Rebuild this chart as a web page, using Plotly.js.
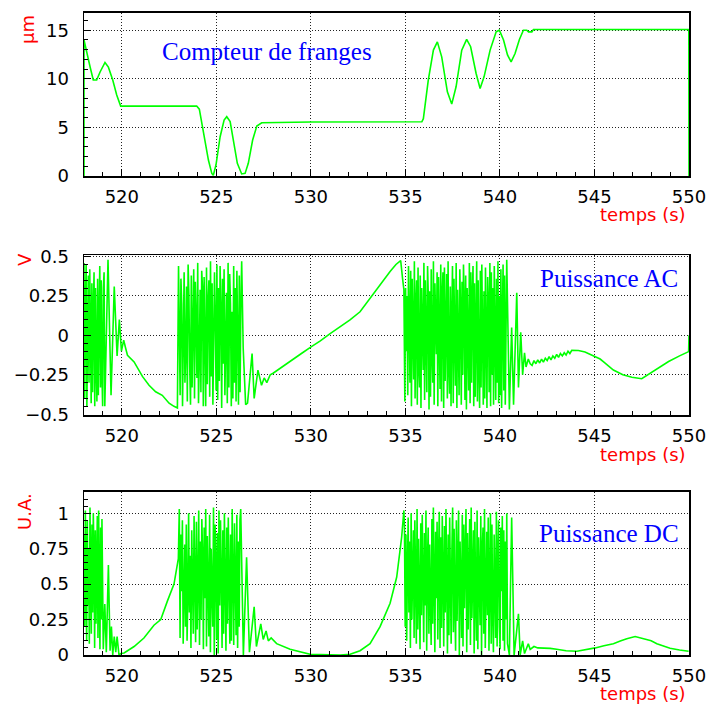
<!DOCTYPE html>
<html><head><meta charset="utf-8">
<script src="https://cdn.plot.ly/plotly-3.0.1.min.js"></script>
<style>html,body{margin:0;padding:0;background:#fff}#chart{width:709px;height:704px}</style>
</head><body><div id="chart"></div>
<script>
// ---------------- DATA ----------------
const xTickVals = [520, 525, 530, 535, 540, 545, 550];
const xTickText = ["520", "525", "530", "535", "540", "545", "550"];
const frTickVals = [0, 5, 10, 15];
const frTickText = ["0", "5", "10", "15"];
const acTickVals = [-0.5, -0.25, 0, 0.25, 0.5];
const acTickText = ["\u22120.5", "\u22120.25", "0", "0.25", "0.5"];
const dcTickVals = [0, 0.25, 0.5, 0.75, 1];
const dcTickText = ["0", "0.25", "0.5", "0.75", "1"];

// Compteur de franges (µm)
const frTime = [518.0, 518.0, 518.32, 518.49, 518.67, 518.85, 519.11, 519.29, 519.52, 519.73, 519.94, 520.5, 522.0, 523.96, 524.1, 524.31, 524.58, 524.76, 524.84, 524.98, 525.2, 525.41, 525.55, 525.73, 525.9, 526.11, 526.34, 526.52, 526.69, 526.92, 527.14, 527.4, 530.0, 533.0, 535.87, 535.95, 536.21, 536.48, 536.69, 536.92, 537.22, 537.45, 537.68, 537.98, 538.24, 538.45, 538.74, 538.95, 539.16, 539.48, 539.8, 539.97, 540.19, 540.4, 540.59, 540.8, 541.03, 541.24, 541.42, 541.51, 541.69, 541.77, 545.0, 549.99, 550.0];
const frValue = [0, 14.0, 11.24, 9.87, 9.87, 10.7, 11.68, 11.2, 9.87, 8.33, 7.19, 7.2, 7.2, 7.2, 6.87, 4.38, 1.64, 0.27, 0.07, 1.13, 4.04, 5.75, 6.1, 5.6, 3.7, 1.3, 0.21, 0.27, 1.3, 3.7, 5.14, 5.48, 5.55, 5.57, 5.58, 5.9, 9.87, 12.95, 13.8, 12.26, 8.66, 7.4, 9.18, 12.95, 14.05, 13.3, 10.55, 9.01, 10.2, 12.95, 14.83, 15.0, 14.0, 12.46, 11.75, 12.6, 14.05, 15.0, 15.0, 14.83, 14.83, 15.07, 15.07, 15.07, 0];

// Puissance AC (V)
const acBurst1Span = [518.0, 519.1];
const acBurst1 = [0.46, -0.40, 0.20, 0.45, -0.45, -0.10, 0.38, -0.30, 0.42, 0.05, -0.43, 0.33, -0.36, 0.15, 0.40, -0.45, 0.30, -0.20, -0.42, 0.36, -0.38, 0.10, 0.44, -0.33, 0.35, -0.25, -0.45, 0.30, 0.40, -0.45];
const acSeg1Time = [519.27, 519.43, 519.6, 519.75, 519.87, 519.98, 520.1, 520.2, 520.3, 520.65, 521.09, 521.44, 521.79, 522.14, 522.5, 522.76, 522.94];
const acSeg1Value = [0.48, -0.38, 0.31, -0.13, 0.10, -0.10, -0.03, -0.08, -0.126, -0.168, -0.26, -0.316, -0.358, -0.38, -0.43, -0.45, -0.46];
const acBurst2Span = [523.0, 526.34];
const acBurst2 = [0.44, -0.30, -0.38, 0.36, 0.20, -0.45, 0.12, 0.40, -0.30, -0.10, 0.31, -0.42, 0.45, 0.25, -0.20, -0.44, 0.38, -0.33, 0.05, 0.42, -0.40, 0.34, 0.10, -0.27, 0.46, -0.43, -0.15, 0.29, -0.36, 0.41, 0.30, -0.45, 0.37, -0.25, -0.45, 0.43, -0.31, 0.22, 0.35, -0.39, 0.47, -0.26, 0.33, -0.44, 0.00, 0.40, 0.08, -0.35, 0.45, -0.41, 0.30, -0.29, 0.44, 0.15, -0.46, 0.36, -0.18, 0.42, -0.38, -0.10, 0.27, -0.43, 0.46, -0.33, 0.39, 0.20, -0.45, 0.15, -0.40, 0.44, -0.30, 0.30, -0.42, 0.41, -0.25, -0.44, 0.38, -0.36, 0.20, 0.47];
const acSeg2Time = [526.42, 526.55, 526.65, 526.89, 527.0, 527.2, 527.39, 527.53, 527.67, 527.85, 528.0, 528.5, 529.0, 529.5, 530.05, 530.5, 531.0, 531.55, 532.07, 532.6, 533.13, 533.6, 534.19, 534.5, 534.75, 534.85, 534.92];
const acSeg2Value = [-0.08, -0.44, -0.43, -0.115, -0.40, -0.22, -0.316, -0.27, -0.30, -0.25, -0.24, -0.20, -0.155, -0.115, -0.07, -0.035, 0.01, 0.056, 0.098, 0.15, 0.236, 0.31, 0.405, 0.45, 0.475, 0.36, 0.29];
const acBurst3Span = [534.97, 540.36];
const acBurst3 = [-0.42, 0.30, -0.10, 0.25, -0.38, 0.44, 0.10, -0.30, 0.41, -0.45, 0.36, -0.05, -0.28, 0.47, -0.40, 0.20, 0.35, -0.44, 0.43, -0.20, -0.33, 0.38, -0.46, 0.30, 0.05, -0.22, 0.46, -0.41, 0.35, -0.15, -0.36, 0.44, 0.25, -0.47, 0.28, -0.39, 0.42, -0.10, -0.30, 0.47, -0.44, 0.33, 0.15, -0.12, 0.40, -0.45, 0.37, -0.25, -0.34, 0.45, -0.42, 0.26, 0.40, -0.46, 0.43, -0.29, 0.10, 0.39, -0.40, 0.47, -0.20, -0.37, 0.31, -0.45, 0.10, 0.44, -0.43, 0.36, 0.00, -0.32, 0.46, -0.46, 0.29, -0.20, -0.38, 0.42, 0.15, -0.44, 0.34, -0.25, 0.45, 0.20, -0.41, 0.38, -0.47, 0.30, -0.05, -0.35, 0.46, -0.43, 0.40, -0.30, 0.25, 0.44, -0.45, 0.33, -0.39, 0.05, 0.47, -0.42, 0.35, -0.20, -0.46, 0.41, -0.33, 0.45, 0.10, -0.44, 0.28, -0.40, 0.43, -0.15, -0.46, 0.37, 0.20, -0.36, 0.46, -0.45, 0.40, -0.25, 0.30, -0.44, 0.44, 0.00, -0.41, 0.36, -0.30, 0.47, -0.43, 0.25, -0.38, 0.42, -0.46, 0.10, 0.45, -0.35, 0.38, -0.44, 0.40, 0.48];
const acSeg3Time = [540.5, 540.62, 540.72, 540.89, 540.98, 541.1, 541.2, 541.3, 541.38, 541.5, 541.6, 541.7, 541.8, 541.9, 542.0, 542.1, 542.2, 542.3, 542.4, 542.5, 542.6, 542.7, 542.8, 542.9, 543.0, 543.1, 543.2, 543.3, 543.4, 543.5, 543.6, 543.7, 543.8, 544.15, 544.5, 544.8, 545.05, 545.3, 545.5, 546.0, 546.5, 546.98, 547.5, 547.95, 548.5, 548.92, 549.5, 549.98, 550.0];
const acSeg3Value = [-0.47, 0.05, -0.44, 0.27, -0.33, 0.02, -0.25, -0.11, -0.20, -0.15, -0.18, -0.19, -0.16, -0.18, -0.155, -0.175, -0.15, -0.17, -0.145, -0.16, -0.135, -0.155, -0.13, -0.145, -0.12, -0.14, -0.115, -0.13, -0.11, -0.125, -0.10, -0.115, -0.095, -0.096, -0.105, -0.12, -0.135, -0.15, -0.17, -0.22, -0.25, -0.265, -0.275, -0.24, -0.20, -0.166, -0.13, -0.103, 0.0];

// Puissance DC (U.A.)
const dcBurst1Span = [518.0, 519.02];
const dcBurst1 = [0.85, 0.20, 1.02, 0.60, 0.10, 0.95, 0.35, 0.75, 0.08, 1.04, 0.40, 0.15, 0.92, 0.30, 1.00, 0.70, 0.05, 0.88, 0.22, 0.50, 0.98, 0.12, 1.02, 0.45, 0.04, 0.90, 0.25, 0.96, 0.10, 0.04];
const dcSeg1Time = [519.1, 519.18, 519.29, 519.38, 519.45, 519.52, 519.6, 519.68, 519.75, 519.85, 519.95, 520.12, 520.65, 521.17, 521.7, 522.06, 522.41, 522.76, 522.99];
const dcSeg1Value = [0.36, 0.02, 0.635, 0.03, 0.20, 0.0, 0.13, 0.02, 0.13, 0.0, 0.01, 0.014, 0.06, 0.12, 0.21, 0.25, 0.38, 0.50, 0.68];
const dcBurst2Span = [523.04, 526.29];
const dcBurst2 = [1.03, 0.12, 0.85, 0.45, 0.95, 0.08, 0.60, 0.78, 0.20, 0.92, 0.10, 0.40, 1.00, 0.30, 0.70, 0.05, 0.88, 0.55, 0.15, 0.98, 0.60, 0.09, 0.94, 0.18, 0.50, 1.02, 0.07, 0.80, 0.25, 0.96, 0.70, 0.04, 0.90, 0.40, 1.03, 0.06, 0.84, 0.35, 0.13, 0.99, 0.02, 0.75, 0.50, 0.20, 1.04, 0.00, 0.92, 0.65, 0.11, 0.86, 0.01, 1.02, 0.35, 0.95, 0.55, 0.05, 0.88, 0.15, 1.00, 0.45, 0.03, 0.90, 0.22, 0.97, 0.60, 0.08, 0.85, 0.10, 1.03, 0.30, 0.07, 0.93, 0.50, 0.14, 0.99, 0.05, 0.80, 0.20, 0.95, 1.03];
const dcSeg2Time = [526.43, 526.6, 526.75, 527.0, 527.12, 527.35, 527.48, 527.63, 527.75, 527.9, 528.19, 528.9, 529.96, 531.0, 531.55, 532.07, 532.6, 533.13, 533.66, 534.19, 534.54, 534.8, 534.92];
const dcSeg2Value = [0.0, 0.69, 0.02, 0.34, 0.06, 0.22, 0.11, 0.17, 0.10, 0.12, 0.08, 0.04, 0.005, 0.0, 0.0, 0.005, 0.03, 0.08, 0.20, 0.365, 0.55, 0.83, 1.02];
const dcBurst3Span = [534.95, 540.4];
const dcBurst3 = [0.90, 0.20, 0.85, 0.10, 0.60, 0.97, 0.30, 0.80, 0.05, 1.00, 0.25, 0.70, 0.88, 0.12, 0.95, 0.55, 0.08, 1.03, 0.18, 0.82, 0.45, 0.04, 0.93, 0.28, 0.99, 0.60, 0.09, 0.86, 0.35, 1.02, 0.03, 0.65, 0.90, 0.15, 0.78, 0.40, 0.07, 0.96, 0.22, 1.04, 0.50, 0.02, 0.87, 0.40, 0.94, 0.11, 0.70, 1.01, 0.05, 0.83, 0.19, 0.98, 0.55, 0.06, 0.91, 0.30, 1.03, 0.60, 0.01, 0.85, 0.14, 0.97, 0.45, 0.08, 0.75, 1.04, 0.16, 0.89, 0.35, 0.03, 0.95, 0.24, 0.65, 1.02, 0.00, 0.80, 0.50, 0.12, 0.99, 0.06, 0.92, 0.33, 0.70, 1.03, 0.02, 0.86, 0.18, 0.55, 0.96, 0.07, 1.04, 0.26, 0.60, 0.88, 0.01, 0.94, 0.40, 0.10, 1.02, 0.04, 0.83, 0.50, 0.21, 0.98, 0.00, 0.75, 0.90, 0.15, 1.03, 0.05, 0.65, 0.87, 0.28, 0.97, 0.03, 0.55, 1.00, 0.08, 0.92, 0.30, 0.02, 0.85, 0.60, 0.12, 1.01, 0.06, 0.70, 0.95, 0.20, 0.04, 0.90, 0.45, 0.98, 0.10, 0.88, 0.03, 0.80, 0.25, 1.00, 0.08];
const dcSeg3Time = [540.5, 540.62, 540.75, 540.98, 541.07, 541.2, 541.3, 541.5, 541.6, 541.8, 542.0, 542.3, 542.66, 543.0, 543.5, 544.07, 544.5, 545.04, 545.5, 546.0, 546.4, 546.71, 547.15, 547.59, 548.0, 548.3, 549.0, 549.5, 549.98];
const dcSeg3Value = [0.0, 0.97, 0.0, 0.29, 0.0, 0.10, 0.01, 0.08, 0.04, 0.06, 0.05, 0.05, 0.047, 0.04, 0.03, 0.026, 0.035, 0.05, 0.065, 0.08, 0.10, 0.115, 0.13, 0.116, 0.10, 0.08, 0.047, 0.035, 0.026];

// ---------------- BUILD ----------------
function burstTimes(span, vals) {
  const n = vals.length;
  return vals.map((v, i) => span[0] + (span[1] - span[0]) * i / (n - 1));
}
const acTime = [].concat(burstTimes(acBurst1Span, acBurst1), acSeg1Time, burstTimes(acBurst2Span, acBurst2), acSeg2Time, burstTimes(acBurst3Span, acBurst3), acSeg3Time);
const acValue = [].concat(acBurst1, acSeg1Value, acBurst2, acSeg2Value, acBurst3, acSeg3Value);
const dcTime = [].concat(burstTimes(dcBurst1Span, dcBurst1), dcSeg1Time, burstTimes(dcBurst2Span, dcBurst2), dcSeg2Time, burstTimes(dcBurst3Span, dcBurst3), dcSeg3Time);
const dcValue = [].concat(dcBurst1, dcSeg1Value, dcBurst2, dcSeg2Value, dcBurst3, dcSeg3Value);

const W = 709, H = 704;
const px = x => x / W;
const py = y => 1 - y / H;
const GREEN = '#00ff00';
const tickFont = {family: 'DejaVu Sans, sans-serif', size: 18, color: '#000'};

const line = {color: GREEN, width: 1.6};
const traces = [
  {x: frTime, y: frValue, xaxis: 'x', yaxis: 'y', type: 'scatter', mode: 'lines', line: line, hoverinfo: 'skip'},
  {x: acTime, y: acValue, xaxis: 'x2', yaxis: 'y2', type: 'scatter', mode: 'lines', line: line, hoverinfo: 'skip'},
  {x: dcTime, y: dcValue, xaxis: 'x3', yaxis: 'y3', type: 'scatter', mode: 'lines', line: line, hoverinfo: 'skip'}
];

function xa(anchor) {
  return {
    domain: [px(84), px(689)], range: [518, 550], anchor: anchor,
    tickmode: 'array', tickvals: xTickVals, ticktext: xTickText,
    ticks: 'inside', ticklen: 7, tickwidth: 1, tickcolor: '#000',
    minor: {ticks: 'inside', ticklen: 4, dtick: 1, tick0: 518, tickcolor: '#000', showgrid: false},
    showline: true, linecolor: '#000', linewidth: 1.5, mirror: true,
    showgrid: true, gridcolor: '#222', gridwidth: 1, griddash: '1px,2px',
    zeroline: false, tickfont: tickFont, ticklabelstandoff: 4, fixedrange: true
  };
}
function ya(anchor, dom, range, tv, tt, minorD) {
  return {
    domain: dom, range: range, anchor: anchor,
    tickmode: 'array', tickvals: tv, ticktext: tt,
    ticks: 'inside', ticklen: 7, tickwidth: 1, tickcolor: '#000',
    minor: {ticks: 'inside', ticklen: 4, dtick: minorD, tick0: 0, tickcolor: '#000', showgrid: false},
    showline: true, linecolor: '#000', linewidth: 1.5, mirror: true,
    showgrid: true, gridcolor: '#222', gridwidth: 1, griddash: '1px,2px',
    zeroline: false, tickfont: tickFont, ticklabelstandoff: 10, fixedrange: true
  };
}

const redFont = {family: 'DejaVu Sans, sans-serif', size: 18, color: '#ff0000'};
const blueFont = {family: 'Liberation Serif, Times New Roman, serif', size: 25, color: '#0000ff'};
function ann(text, x, y, font, xa_, ya_, angle) {
  return {text: text, x: px(x), y: py(y), xref: 'paper', yref: 'paper', showarrow: false,
    xanchor: xa_, yanchor: ya_, font: font, textangle: angle || 0};
}

const layout = {
  width: W, height: H,
  margin: {l: 0, r: 0, t: 0, b: 0},
  paper_bgcolor: '#fff', plot_bgcolor: '#fff',
  showlegend: false,
  xaxis: xa('y'),
  yaxis: ya('x', [py(176), py(12.7)], [0, 16.8], frTickVals, frTickText, 1),
  xaxis2: xa('y2'),
  yaxis2: ya('x2', [py(415), py(255)], [-0.505, 0.51], acTickVals, acTickText, 0.05),
  xaxis3: xa('y3'),
  yaxis3: ya('x3', [py(655), py(491.7)], [0, 1.152], dcTickVals, dcTickText, 0.05),
  annotations: [
    ann('Compteur de franges', 266.5, 51, blueFont, 'center', 'middle'),
    ann('Puissance AC', 609, 279, blueFont, 'center', 'middle'),
    ann('Puissance DC', 609, 533, blueFont, 'center', 'middle'),
    ann('temps (s)', 688, 214, redFont, 'right', 'middle'),
    ann('temps (s)', 688, 454, redFont, 'right', 'middle'),
    ann('temps (s)', 688, 693, redFont, 'right', 'middle'),
    ann('\u00b5m', 27.5, 13, redFont, 'center', 'top', -90),
    ann('V', 24.5, 251, redFont, 'center', 'top', -90),
    ann('U.A.', 24.5, 491, redFont, 'center', 'top', -90)
  ]
};

Plotly.newPlot('chart', traces, layout, {displayModeBar: false, staticPlot: true});
</script>
</body></html>
